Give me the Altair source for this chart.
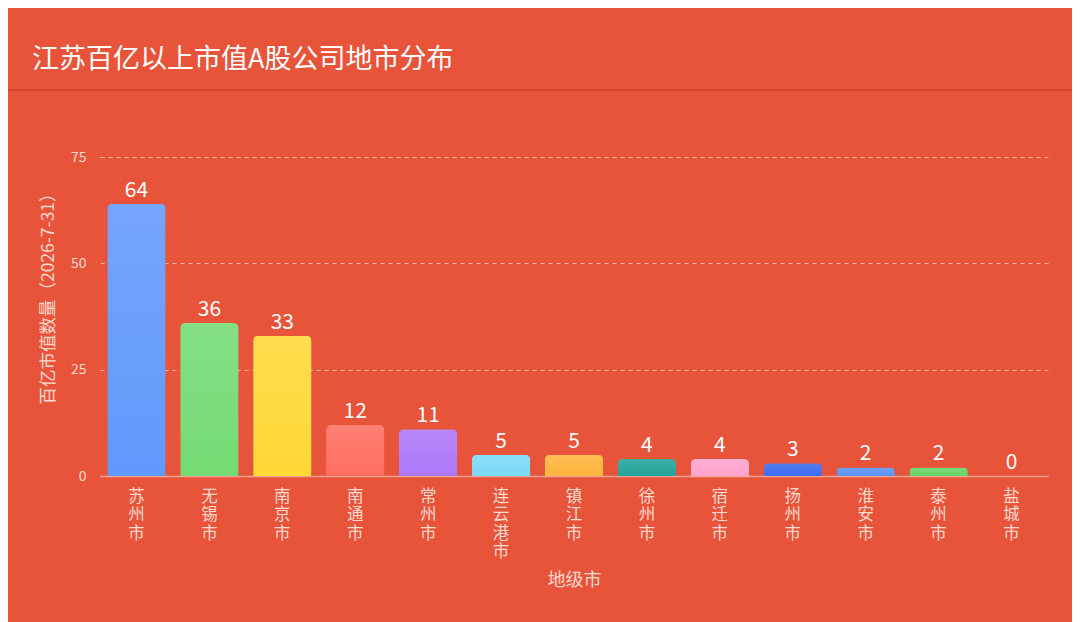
import altair as alt
import pandas as pd

cities = ["苏州市", "无锡市", "南京市", "南通市", "常州市", "连云港市", "镇江市",
          "徐州市", "宿迁市", "扬州市", "淮安市", "泰州市", "盐城市"]
counts = [64, 36, 33, 12, 11, 5, 5, 4, 4, 3, 2, 2, 0]
colors = ["#6299FC", "#74DB74", "#FFD836", "#FF6E60", "#AE78FA", "#7CD9F7", "#FFB53E",
          "#23A39A", "#FFA3CC", "#3D6BF0", "#5B93F5", "#66D468", "#CCCCCC"]

BG = "#E8543A"
FG = "#FFFFFF"
SOFT = "#FCDAD0"

df = pd.DataFrame({"city": cities, "count": counts})

x = alt.X("city:N", sort=cities, title="地级市",
          scale=alt.Scale(paddingInner=0.2, paddingOuter=0.1),
          axis=alt.Axis(labelAngle=0, labelExpr="split(datum.label, '')",
                        labelFontSize=16.5, labelLineHeight=18.5, labelColor=SOFT,
                        labelPadding=12, labelBaseline="top",
                        domainColor="#F2A593", domainWidth=1.5, ticks=False,
                        titleColor=SOFT, titleFontSize=18, titleFontWeight="normal",
                        titleY=104, titleBaseline="middle"))
y = alt.Y("count:Q", title="百亿市值数量（2026-7-31）",
          scale=alt.Scale(domain=[0, 75], nice=False),
          axis=alt.Axis(values=[0, 25, 50, 75], labelFontSize=14, labelColor=SOFT,
                        labelPadding=14, ticks=False, domain=False,
                        gridColor="#FFFFFF", gridOpacity=0.55, gridDash=[4, 4], gridWidth=1,
                        titleColor=SOFT, titleFontSize=17.5, titleFontWeight="normal",
                        titleAngle=-90, titleX=-52, titleY=137,
                        titleAlign="center", titleBaseline="middle"))

base = alt.Chart(df)

bars = base.mark_bar(cornerRadiusTopLeft=5, cornerRadiusTopRight=5).encode(
    x=x, y=y,
    color=alt.Color("city:N", sort=cities,
                    scale=alt.Scale(domain=cities, range=colors), legend=None),
)

shine = base.mark_bar(cornerRadiusTopLeft=5, cornerRadiusTopRight=5).encode(
    x=alt.X("city:N", sort=cities), y=alt.Y("count:Q"),
    color=alt.value({"gradient": "linear", "x1": 0, "y1": 0, "x2": 0, "y2": 1,
                     "stops": [{"offset": 0, "color": "rgba(255,255,255,0.12)"},
                               {"offset": 1, "color": "rgba(255,255,255,0)"}]}),
)

labels = base.mark_text(baseline="bottom", dy=-3, fontSize=21, color=FG).encode(
    x=alt.X("city:N", sort=cities), y=alt.Y("count:Q"), text="count:Q"
)

sep = base.mark_rule(color="#D9462F", strokeWidth=1.5).encode(
    x=alt.value(-92), x2=alt.value(972), y=alt.value(-67)
)

chart = alt.layer(sep, bars, shine, labels).properties(
    width=948, height=319,
    background=BG,
    padding={"left": 92, "top": 149, "right": 24, "bottom": 146},
    autosize=alt.AutoSizeParams(type="none"),
    title=alt.TitleParams("江苏百亿以上市值A股公司地市分布", anchor="start", frame="group",
                          dx=-68, offset=15, fontSize=27, fontWeight="normal",
                          color=FG, font="Noto Sans CJK SC"),
).configure(font="Noto Sans CJK SC").configure_view(stroke=None)

chart.save("out.html", embed_options={"renderer": "svg", "actions": False})
